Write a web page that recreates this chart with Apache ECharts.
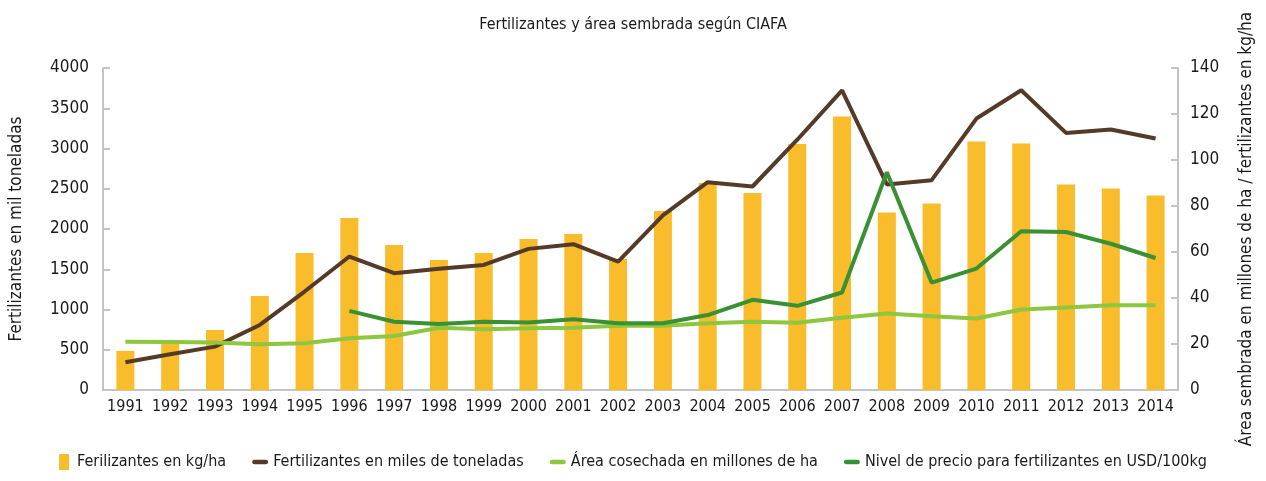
<!DOCTYPE html>
<html>
<head>
<meta charset="utf-8">
<script src="https://cdn.jsdelivr.net/npm/echarts@6/dist/echarts.min.js"></script>
<style>
  html, body { margin: 0; padding: 0; background: #fff; }
  #chart { width: 1266px; height: 481px; }
</style>
</head>
<body>
<div id="chart"></div>
<script>
const years = ["1991", "1992", "1993", "1994", "1995", "1996", "1997", "1998", "1999", "2000", "2001", "2002",
  "2003", "2004", "2005", "2006", "2007", "2008", "2009", "2010", "2011", "2012", "2013", "2014"];

// kg/ha (right axis)
const kgPorHa = [17, 20.5, 26.1, 40.9, 59.6, 74.8, 63, 56.5, 59.6, 65.7, 67.8, 57,
  77.8, 90, 85.7, 107, 118.9, 77.2, 81.1, 108, 107.2, 89.4, 87.6, 84.6];

// miles de toneladas (left axis)
const milesToneladas = [344, 443, 539, 808, 1223, 1658, 1451, 1505, 1554, 1753, 1811, 1596,
  2168, 2582, 2528, 3109, 3723, 2553, 2607, 3372, 3723, 3194, 3236, 3124];

// millones de ha (right axis)
const areaCosechada = [21, 20.9, 20.6, 19.9, 20.3, 22.5, 23.5, 27.1, 26.4, 26.8, 27.1, 27.9,
  27.9, 29, 29.7, 29.2, 31.4, 33.3, 32.1, 31.1, 35, 35.9, 36.9, 36.9];

// USD/100kg (right axis), sin datos antes de 1996
const precio = [null, null, null, null, null, 34.4, 29.7, 28.7, 29.7, 29.3, 30.8, 29,
  29, 32.6, 39.2, 36.6, 42.4, 94.7, 46.7, 52.8, 69, 68.7, 63.6, 57.4];

const font = "'Liberation Sans Narrow', 'DejaVu Sans Condensed', sans-serif";
const axisColor = "#c4c4c4";
const lineIcon = "path://M2,0h12a2,2 0 0 1 0,5h-12a2,2 0 0 1 0,-5z";

const chart = echarts.init(document.getElementById("chart"));
chart.setOption({
  animation: false,
  textStyle: { fontFamily: font, color: "#1a1a1a" },
  title: {
    text: "Fertilizantes y área sembrada según CIAFA",
    left: "center",
    top: 12,
    textStyle: { fontFamily: font, fontSize: 16, fontWeight: "normal", color: "#1a1a1a" }
  },
  legend: {
    bottom: 6,
    left: "center",
    itemGap: 26,
    itemWidth: 16,
    itemHeight: 16,
    textStyle: { fontFamily: font, fontSize: 16, color: "#1a1a1a" },
    data: [
      { name: "Ferilizantes en kg/ha", icon: "path://M0,0h10v16h-10z" },
      { name: "Fertilizantes en miles de toneladas", icon: lineIcon },
      { name: "Área cosechada en millones de ha", icon: lineIcon },
      { name: "Nivel de precio para fertilizantes en USD/100kg", icon: lineIcon }
    ]
  },
  grid: { left: 103, right: 88, top: 68, bottom: 91, containLabel: false },
  xAxis: {
    type: "category",
    data: years,
    boundaryGap: true,
    axisLine: { lineStyle: { color: axisColor, width: 2 } },
    axisTick: { inside: true, length: 7, lineStyle: { color: axisColor, width: 2 } },
    axisLabel: { fontFamily: font, fontSize: 16, color: "#1a1a1a", margin: 9, interval: 0 }
  },
  yAxis: [
    {
      type: "value",
      min: 0, max: 4000, interval: 500,
      name: "Fertilizantes en mil toneladas",
      nameLocation: "middle",
      nameGap: 78,
      nameTextStyle: { fontFamily: font, fontSize: 17, color: "#1a1a1a" },
      axisLine: { show: true, lineStyle: { color: axisColor, width: 2 } },
      axisTick: { show: true, inside: true, length: 7, lineStyle: { color: axisColor, width: 2 } },
      axisLabel: { fontFamily: font, fontSize: 17, color: "#1a1a1a", margin: 14, formatter: v => String(v) },
      splitLine: { show: false }
    },
    {
      type: "value",
      min: 0, max: 140, interval: 20,
      name: "Área sembrada en millones de ha / fertilizantes en kg/ha",
      nameLocation: "middle",
      nameGap: 60,
      nameRotate: 90,
      nameTextStyle: { fontFamily: font, fontSize: 17, color: "#1a1a1a" },
      axisLine: { show: true, lineStyle: { color: axisColor, width: 2 } },
      axisTick: { show: true, inside: true, length: 7, lineStyle: { color: axisColor, width: 2 } },
      axisLabel: { fontFamily: font, fontSize: 17, color: "#1a1a1a", margin: 12 },
      splitLine: { show: false }
    }
  ],
  series: [
    {
      name: "Ferilizantes en kg/ha",
      type: "bar",
      yAxisIndex: 1,
      data: kgPorHa,
      barWidth: 18,
      itemStyle: { color: "#f9bc2b" }
    },
    {
      name: "Fertilizantes en miles de toneladas",
      type: "line",
      yAxisIndex: 0,
      data: milesToneladas,
      symbol: "none",
      lineStyle: { color: "#553a28", width: 4 },
      itemStyle: { color: "#553a28" }
    },
    {
      name: "Área cosechada en millones de ha",
      type: "line",
      yAxisIndex: 1,
      data: areaCosechada,
      symbol: "none",
      lineStyle: { color: "#8dc63f", width: 4 },
      itemStyle: { color: "#8dc63f" }
    },
    {
      name: "Nivel de precio para fertilizantes en USD/100kg",
      type: "line",
      yAxisIndex: 1,
      data: precio,
      symbol: "none",
      lineStyle: { color: "#3a9133", width: 4 },
      itemStyle: { color: "#3a9133" }
    }
  ]
});
</script>
</body>
</html>
